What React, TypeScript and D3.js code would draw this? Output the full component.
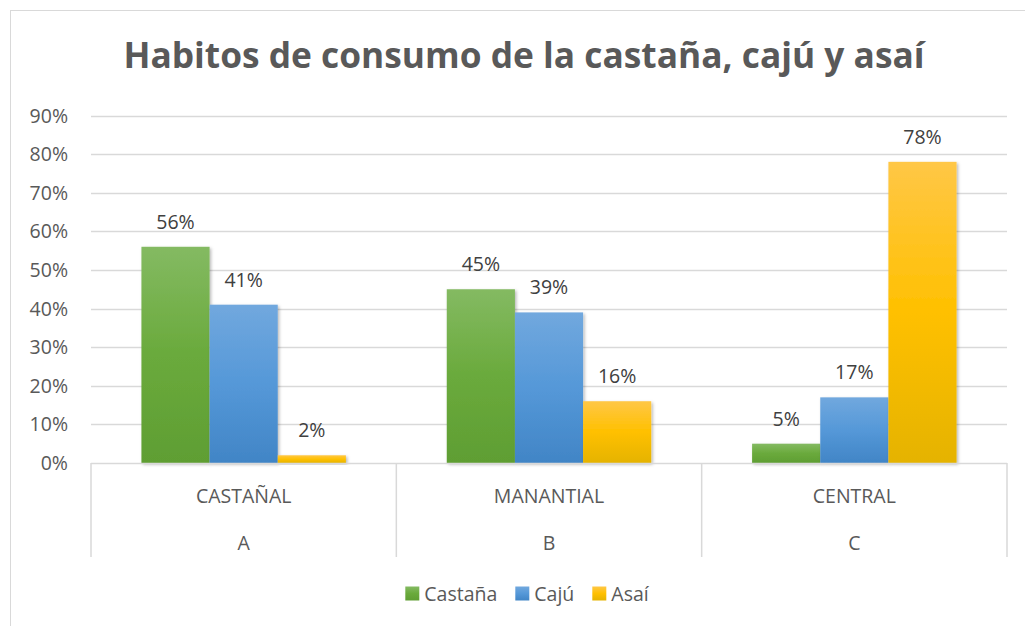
import React, { useEffect, useRef } from "react";
import * as d3 from "d3";

const categories = ["CASTAÑAL", "MANANTIAL", "CENTRAL"];
const subCategories = ["A", "B", "C"];
const seriesNames = ["Castaña", "Cajú", "Asaí"];
const castana = [0.56, 0.45, 0.05];
const caju = [0.41, 0.39, 0.17];
const asai = [0.02, 0.16, 0.78];
const yTicks = [0, 0.1, 0.2, 0.3, 0.4, 0.5, 0.6, 0.7, 0.8, 0.9];
const title = "Habitos de consumo de la castaña, cajú y asaí";

const W = 1025;
const H = 626;
const FONT = "'Open Sans', 'Noto Sans', sans-serif";
const FS = 19.5;
const gradients = [
  { id: "gGreen", stops: ["#84ba62", "#6aaa3c", "#5f9e33"] },
  { id: "gBlue", stops: ["#71a8de", "#5598d8", "#4185c6"] },
  { id: "gYellow", stops: ["#ffc746", "#ffc000", "#e5b300"] },
];

export default function App() {
  const ref = useRef<SVGSVGElement>(null);

  useEffect(() => {
    const svg = d3.select(ref.current);
    svg.selectAll("*").remove();
    const series = [castana, caju, asai];

    const defs = svg.append("defs");
    gradients.forEach((g) => {
      const lg = defs
        .append("linearGradient")
        .attr("id", g.id)
        .attr("x1", 0)
        .attr("y1", 0)
        .attr("x2", 0)
        .attr("y2", 1);
      g.stops.forEach((c, i) =>
        lg.append("stop").attr("offset", `${i * 50}%`).attr("stop-color", c)
      );
    });
    const f = defs
      .append("filter")
      .attr("id", "shadow")
      .attr("x", "-20%")
      .attr("y", "-20%")
      .attr("width", "140%")
      .attr("height", "140%");
    f.append("feDropShadow")
      .attr("dx", 1.5)
      .attr("dy", 1.5)
      .attr("stdDeviation", 1.5)
      .attr("flood-color", "#000")
      .attr("flood-opacity", 0.28);

    // outer border
    svg
      .append("rect")
      .attr("x", 10.5)
      .attr("y", 10.5)
      .attr("width", W + 20)
      .attr("height", H + 20)
      .attr("fill", "#fff")
      .attr("stroke", "#d9d9d9")
      .attr("stroke-width", 1);

    const left = 91;
    const right = 1007;
    const top = 115.5;
    const bottom = 463;

    const y = d3.scaleLinear().domain([0, 0.9]).range([bottom, top]);
    const x0 = d3.scaleBand<string>().domain(categories).range([left, right]).paddingInner(0).paddingOuter(0);
    const bandW = x0.bandwidth();
    const barW = bandW / (3 + 1.48);
    const x1 = d3
      .scaleBand<string>()
      .domain(seriesNames)
      .range([(bandW - 3 * barW) / 2, (bandW + 3 * barW) / 2]);

    // title
    svg
      .append("text")
      .attr("x", 524)
      .attr("y", 68)
      .attr("text-anchor", "middle")
      .attr("font-family", FONT)
      .attr("font-weight", "bold")
      .attr("font-size", 35.3)
      .attr("fill", "#595959")
      .text(title);

    // gridlines
    svg
      .append("g")
      .selectAll("line")
      .data(yTicks.slice(1))
      .join("line")
      .attr("x1", left)
      .attr("x2", right)
      .attr("y1", (d) => Math.round(y(d)) + 0.5)
      .attr("y2", (d) => Math.round(y(d)) + 0.5)
      .attr("stroke", "#d9d9d9")
      .attr("stroke-width", 1.3);

    // y tick labels
    svg
      .append("g")
      .selectAll("text")
      .data(yTicks)
      .join("text")
      .attr("x", 68)
      .attr("y", (d) => y(d) + 7)
      .attr("text-anchor", "end")
      .attr("font-family", FONT)
      .attr("font-size", FS)
      .attr("fill", "#595959")
      .text((d) => d3.format(".0%")(d));

    // bars
    const bars = svg.append("g");
    categories.forEach((c, ci) => {
      series.forEach((s, si) => {
        const bx = (x0(c) as number) + (x1(seriesNames[si]) as number);
        bars
          .append("rect")
          .attr("x", bx)
          .attr("y", y(s[ci]))
          .attr("width", barW)
          .attr("height", bottom - y(s[ci]))
          .attr("fill", `url(#${gradients[si].id})`)
          .attr("filter", "url(#shadow)");
      });
    });
    // data labels
    categories.forEach((c, ci) => {
      series.forEach((s, si) => {
        const bx = (x0(c) as number) + (x1(seriesNames[si]) as number);
        svg
          .append("text")
          .attr("x", bx + barW / 2)
          .attr("y", y(s[ci]) - 18)
          .attr("text-anchor", "middle")
          .attr("font-family", FONT)
          .attr("font-size", FS)
          .attr("fill", "#404040")
          .text(d3.format(".0%")(s[ci]));
      });
    });

    // category axis
    const ax = svg.append("g");
    ax.append("line")
      .attr("x1", left)
      .attr("x2", right)
      .attr("y1", bottom + 0.5)
      .attr("y2", bottom + 0.5)
      .attr("stroke", "#d9d9d9")
      .attr("stroke-width", 1.5);
    const seps = [...categories.map((c) => x0(c) as number), right];
    ax.selectAll("line.sep")
      .data(seps)
      .join("line")
      .attr("class", "sep")
      .attr("x1", (d) => d)
      .attr("x2", (d) => d)
      .attr("y1", bottom)
      .attr("y2", 557)
      .attr("stroke", "#d9d9d9")
      .attr("stroke-width", 1.5);
    ax.selectAll("text.cat")
      .data(categories)
      .join("text")
      .attr("class", "cat")
      .attr("x", (d) => (x0(d) as number) + bandW / 2)
      .attr("y", 502.5)
      .attr("text-anchor", "middle")
      .attr("font-family", FONT)
      .attr("font-size", FS)
      .attr("fill", "#595959")
      .text((d) => d);
    ax.selectAll("text.sub")
      .data(subCategories)
      .join("text")
      .attr("class", "sub")
      .attr("x", (d, i) => (x0(categories[i]) as number) + bandW / 2)
      .attr("y", 550)
      .attr("text-anchor", "middle")
      .attr("font-family", FONT)
      .attr("font-size", FS)
      .attr("fill", "#595959")
      .text((d) => d);

    // legend
    const lg = svg.append("g");
    const items = lg
      .selectAll("g")
      .data(seriesNames)
      .join("g");
    items
      .append("rect")
      .attr("width", 14)
      .attr("height", 14)
      .attr("y", 586.5)
      .attr("fill", (d, i) => `url(#${gradients[i].id})`);
    items
      .append("text")
      .attr("x", 19)
      .attr("y", 600.5)
      .attr("font-family", FONT)
      .attr("font-size", FS)
      .attr("fill", "#595959")
      .text((d) => d);
    const widths: number[] = [];
    items.each(function () {
      const t = d3.select(this).select("text").node() as SVGTextElement;
      widths.push(19 + t.getComputedTextLength());
    });
    const gap = 18;
    const total = d3.sum(widths) + gap * (widths.length - 1);
    let cx = 527 - total / 2;
    items.attr("transform", (d, i) => {
      const tx = cx;
      cx += widths[i] + gap;
      return `translate(${tx},0)`;
    });
  }, []);

  return (
    <svg
      ref={ref}
      width={W}
      height={H}
      style={{ position: "absolute", left: 0, top: 0, background: "#fff" }}
    />
  );
}
